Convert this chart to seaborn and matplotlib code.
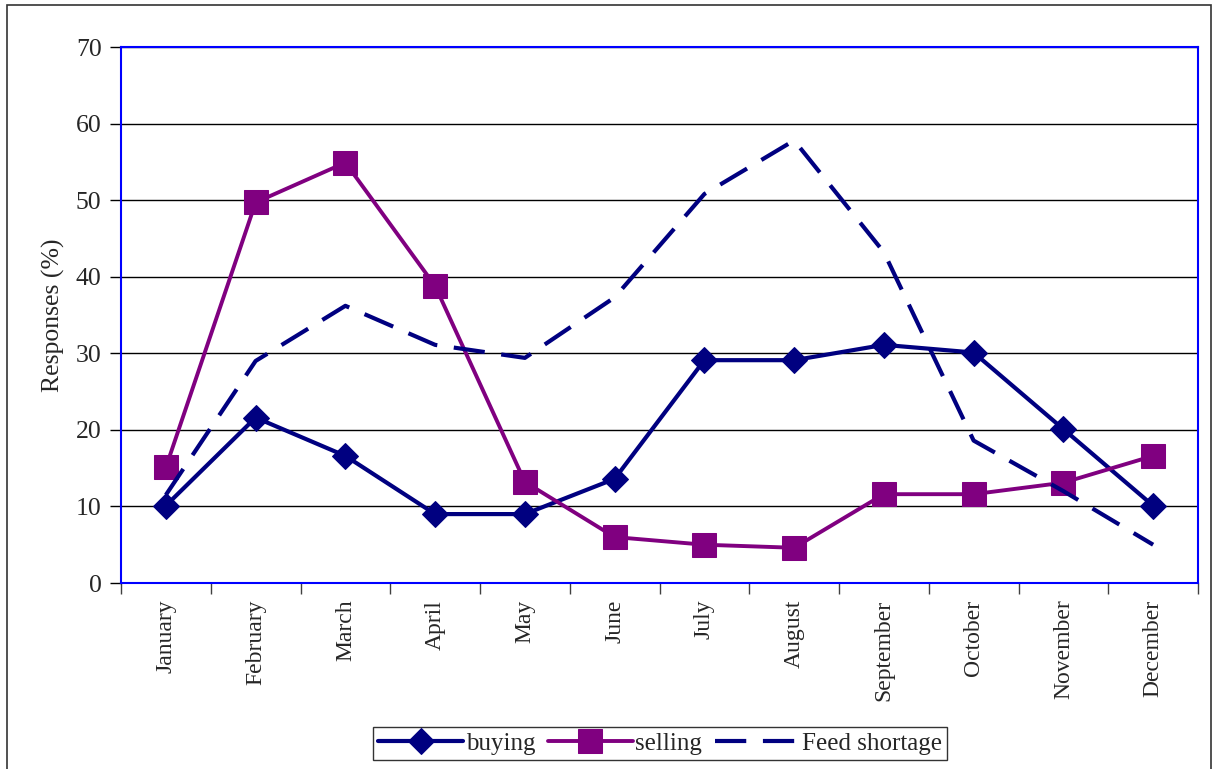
import numpy as np
import pandas as pd
import matplotlib
matplotlib.use('Agg')
import matplotlib.pyplot as plt
from matplotlib.patches import Rectangle
import seaborn as sns

sns.set_style("white")
plt.rcParams['font.family'] = ['Liberation Serif', 'DejaVu Serif']

# data
months = ["January", "February", "March", "April", "May", "June",
          "July", "August", "September", "October", "November", "December"]
buying = [10.1, 21.6, 16.6, 9.0, 9.0, 13.6, 29.1, 29.1, 31.1, 30.1, 20.1, 10.1]
selling = [15.1, 49.7, 54.9, 38.8, 13.2, 6.0, 5.0, 4.6, 11.6, 11.6, 13.1, 16.6]
feed_shortage = [11.5, 29.0, 36.2, 31.1, 29.4, 37.3, 50.8, 57.8, 43.2, 18.6, 12.0, 5.0]

navy = "#000080"
purple = "#800080"

fig = plt.figure(figsize=(12.14, 7.69), dpi=100)
ax = fig.add_axes([121/1214, 1 - 583/769, (1198 - 121)/1214, (583 - 47)/769])

x = np.arange(len(months))
sns.lineplot(x=x, y=buying, ax=ax, color=navy, lw=3, marker="D", ms=13.5,
             markeredgecolor=navy, label="buying", sort=False)
sns.lineplot(x=x, y=selling, ax=ax, color=purple, lw=2.8, marker="s", ms=17,
             markeredgecolor=purple, label="selling", sort=False)
sns.lineplot(x=x, y=feed_shortage, ax=ax, color=navy, lw=3,
             label="Feed shortage", sort=False)
ax.lines[-1].set_dashes((7.5, 4))

ax.set_xlim(-0.5, len(months) - 0.5)
ax.set_ylim(0, 70)
ax.set_yticks(range(0, 71, 10))
ax.yaxis.grid(True, color="black", lw=1)
ax.xaxis.grid(False)

# ticks between categories, labels at centres
ax.set_xticks(np.arange(-0.5, len(months), 1.0))
ax.set_xticklabels([])
ax.set_xticks(x, minor=True)
ax.set_xticklabels(months, minor=True, rotation=90, fontsize=17)
ax.tick_params(axis="x", which="major", length=8, width=1, color="#404040", direction="out", bottom=True)
ax.tick_params(axis="x", which="minor", length=0, pad=12)
ax.tick_params(axis="y", length=8, width=1, color="black", direction="out", left=True, labelsize=18.5, pad=6)

for s in ax.spines.values():
    s.set_color("blue")
    s.set_linewidth(1.5)

ax.set_ylabel("Responses (%)", fontsize=18.5, labelpad=8)
ax.set_xlabel("")

handles, labels = ax.get_legend_handles_labels()
ax.get_legend().remove()
leg = fig.legend(handles, labels, loc="center", bbox_to_anchor=(0.544, 0.033), ncol=3,
                 frameon=True, fancybox=False, edgecolor="black", fontsize=18,
                 handlelength=3.4, handletextpad=0.1, columnspacing=0.5,
                 borderpad=0.2, borderaxespad=0)
leg.get_frame().set_linewidth(1)

# outer chart border
fig.patches.append(Rectangle((7/1214, -0.01), (1211 - 7)/1214, 1 - 5/769 + 0.01,
                             transform=fig.transFigure, fill=False,
                             edgecolor="#333333", lw=1.2))

fig.savefig("out.png", dpi=100)
